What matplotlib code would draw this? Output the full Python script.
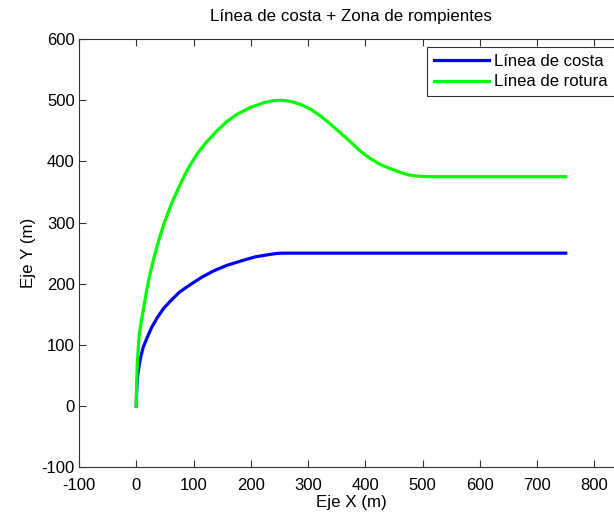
import numpy as np
import matplotlib
matplotlib.use("Agg")
from matplotlib import pyplot as plt

plt.rcParams['font.family'] = ['Liberation Sans', 'DejaVu Sans']
plt.rcParams['axes.unicode_minus'] = False

# linea de costa (azul)
costa_x = [0, 0.3, 1, 1.7, 3, 5, 7.5, 12, 19, 27, 37, 48, 60, 75, 95, 115,
           135, 158, 182, 208, 234, 245, 255, 300, 500, 750]
costa_y = [0, 15, 30, 41, 54, 66, 79, 96, 112, 129, 145, 160, 172, 186, 199,
           211, 221, 230, 237, 244, 248, 249.5, 250, 250, 250, 250]

# linea de rotura (verde)
rotura_x = [0, 0.5, 1.7, 5, 9, 13, 19, 25, 31, 39, 48, 62, 77, 91, 106, 123,
            141, 158, 176, 199, 223, 238, 252, 270, 287, 305, 322, 339, 356,
            374, 391, 408, 426, 444, 461, 475, 490, 510, 600, 750]
rotura_y = [0, 25, 69, 115, 140, 161, 194, 220, 243, 270, 297, 332, 363, 389,
            412, 432, 450, 465, 477, 488, 496, 499, 500, 498, 493, 485, 474,
            461, 447, 432, 417, 405, 395, 388, 382, 378, 376, 375, 375, 375]

xticks = [-100, 0, 100, 200, 300, 400, 500, 600, 700, 800]
yticks = [-100, 0, 100, 200, 300, 400, 500, 600]

fig = plt.figure(figsize=(6.14, 5.12), dpi=100)
ax = fig.add_axes([79 / 614, 1 - 467.3 / 512, 544 / 614, 428.3 / 512])

ax.plot(costa_x, costa_y, color='#0000ff', lw=2.3, label='Línea de costa')
ax.plot(rotura_x, rotura_y, color='#00ff00', lw=2.3, label='Línea de rotura')

ax.set_xlim(-100, 850)
ax.set_ylim(-100, 600)
ax.set_xticks(xticks)
ax.set_yticks(yticks)
ax.tick_params(direction='in', top=True, right=True, length=5, labelsize=12,
               color='#333333', width=0.8, pad=3)
ax.tick_params(axis='x', pad=8)
for s in ax.spines.values():
    s.set_color('#333333')
    s.set_linewidth(0.8)

ax.set_title('Línea de costa + Zona de rompientes', fontsize=12.2, pad=13)
ax.set_xlabel('Eje X (m)', fontsize=12.2, labelpad=1)
ax.set_ylabel('Eje Y (m)', fontsize=12.2, labelpad=4)

leg = ax.legend(loc='upper left', bbox_to_anchor=(427 / 614, 1 - 47 / 512),
                bbox_transform=fig.transFigure, fontsize=12, fancybox=False,
                framealpha=1, edgecolor='#333333', handlelength=3.3,
                borderpad=0.4, labelspacing=0.35, handletextpad=0.35,
                borderaxespad=0)
leg.get_frame().set_linewidth(0.8)

fig.savefig('out.png', dpi=100)
